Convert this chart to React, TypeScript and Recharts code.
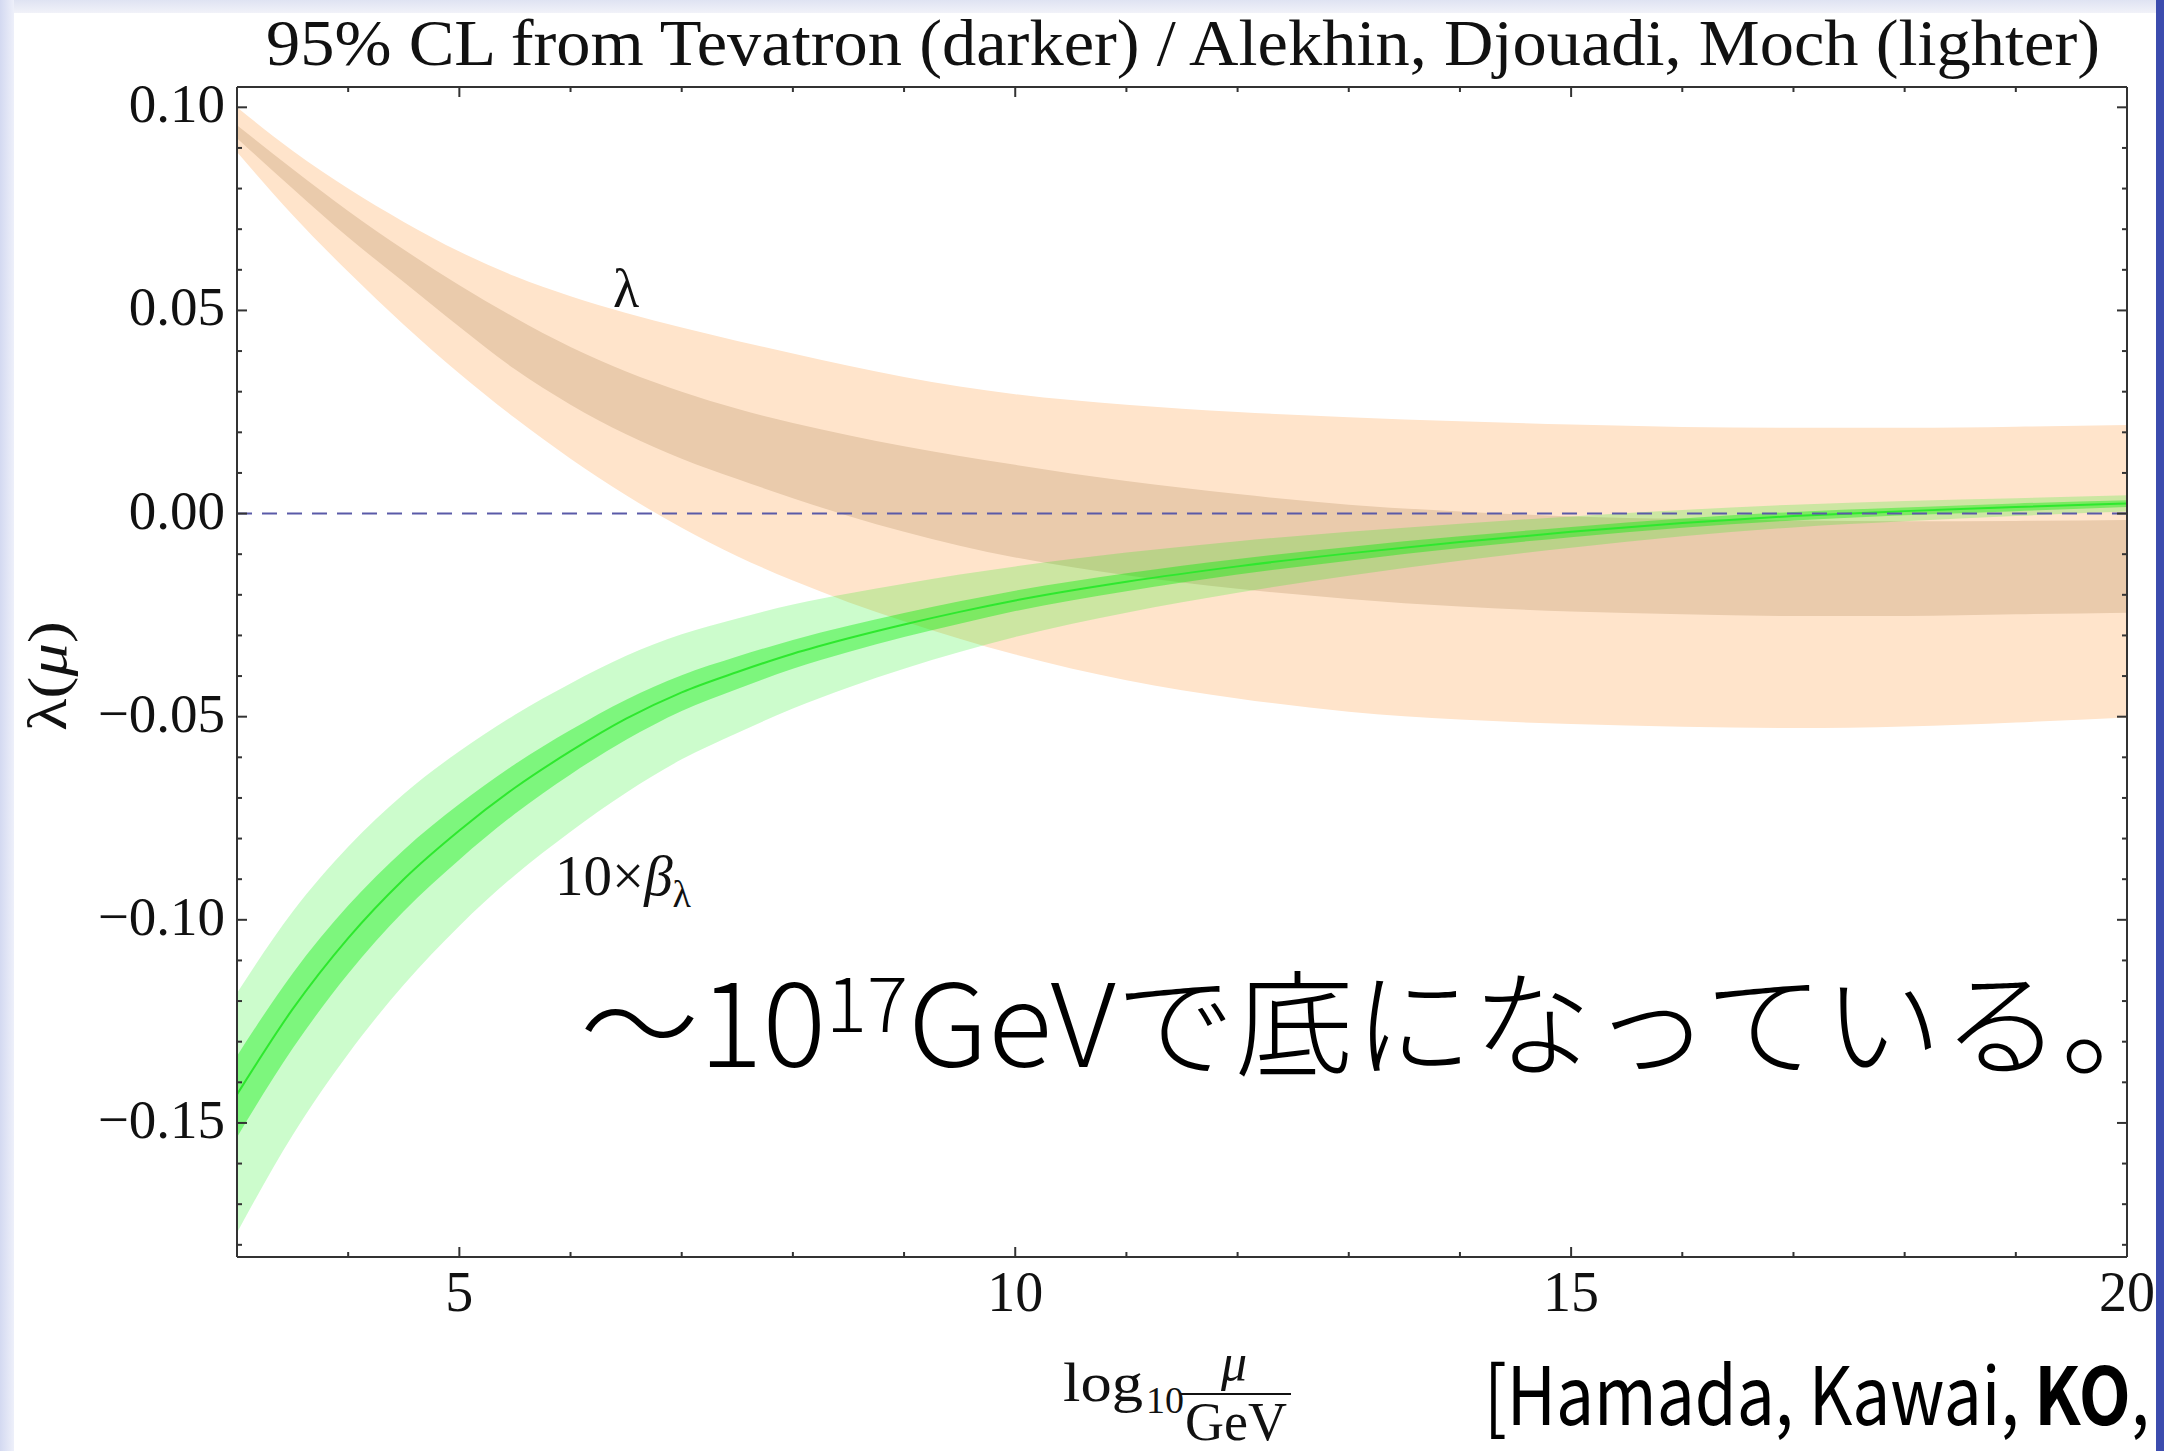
import React from "react";
import { ComposedChart, Area, Line, XAxis, YAxis, ReferenceLine } from "recharts";

// log10(mu / GeV)
const mu = [3, 3.5, 4, 4.5, 5, 5.5, 6, 6.5, 7, 7.5, 8, 8.5, 9, 9.5, 10, 11, 12, 13, 14, 15, 16, 17, 18, 19, 20];

// lambda, Alekhin/Djouadi/Moch band (lighter)
const lamAdmHi = [0.1, 0.0893, 0.08, 0.0718, 0.0645, 0.0584, 0.0535, 0.0494, 0.0458, 0.0425, 0.0394, 0.0364, 0.0336, 0.0313, 0.0294, 0.0268, 0.025, 0.0237, 0.0227, 0.0219, 0.0213, 0.0211, 0.0211, 0.0214, 0.0218];
const lamAdmLo = [0.089, 0.0735, 0.0595, 0.0465, 0.0345, 0.0235, 0.0135, 0.0045, -0.0035, -0.0105, -0.0165, -0.0218, -0.0265, -0.0308, -0.0347, -0.041, -0.0455, -0.0488, -0.0507, -0.0518, -0.0525, -0.0528, -0.0524, -0.0514, -0.0502];

// lambda, Tevatron band (darker)
const lamTevHi = [0.0956, 0.0848, 0.0745, 0.065, 0.0562, 0.0482, 0.041, 0.035, 0.03, 0.0258, 0.0223, 0.0193, 0.0166, 0.0142, 0.012, 0.008, 0.0048, 0.0022, 0.0005, -0.0007, -0.0013, -0.0017, -0.0019, -0.0018, -0.0016];
const lamTevLo = [0.0924, 0.08, 0.068, 0.057, 0.046, 0.0355, 0.0268, 0.0195, 0.0135, 0.0085, 0.0038, -0.0006, -0.0045, -0.0079, -0.0108, -0.0152, -0.0185, -0.021, -0.0229, -0.0241, -0.0248, -0.0252, -0.0252, -0.0248, -0.0244];

// 10 x beta_lambda
const betaMid = [-0.143, -0.122, -0.1045, -0.09, -0.078, -0.0675, -0.0585, -0.0505, -0.044, -0.039, -0.0345, -0.0307, -0.0273, -0.0242, -0.0214, -0.0168, -0.013, -0.0098, -0.007, -0.0045, -0.0023, -0.0006, 0.0006, 0.0016, 0.0025];
const betaAdmHi = [-0.118, -0.098, -0.082, -0.069, -0.0585, -0.0495, -0.0418, -0.035, -0.0297, -0.0258, -0.0224, -0.0197, -0.0173, -0.015, -0.013, -0.0096, -0.0068, -0.0045, -0.0025, -0.0007, 0.0009, 0.0022, 0.0031, 0.0038, 0.0045];
const betaAdmLo = [-0.177, -0.153, -0.133, -0.116, -0.1015, -0.089, -0.0783, -0.0687, -0.0605, -0.054, -0.048, -0.0428, -0.0382, -0.0341, -0.0304, -0.0244, -0.0195, -0.0153, -0.0116, -0.0084, -0.0056, -0.0034, -0.0019, -0.0006, 0.0005];
const betaTevHi = [-0.1335, -0.1132, -0.0965, -0.0828, -0.0715, -0.0617, -0.0533, -0.0458, -0.0398, -0.0352, -0.0311, -0.0276, -0.0245, -0.0216, -0.019, -0.0147, -0.0112, -0.0082, -0.0056, -0.0033, -0.0012, 0.0004, 0.0015, 0.0025, 0.0033];
const betaTevLo = [-0.1535, -0.1317, -0.1133, -0.0979, -0.0852, -0.0739, -0.0642, -0.0557, -0.0486, -0.0432, -0.0382, -0.0341, -0.0304, -0.0271, -0.024, -0.0191, -0.015, -0.0116, -0.0085, -0.0058, -0.0035, -0.0017, -0.0004, 0.0006, 0.0016];

const xTicks = [4, 5, 6, 7, 8, 9, 10, 11, 12, 13, 14, 15, 16, 17, 18, 19, 20];
const yTicks = [-0.18, -0.17, -0.16, -0.15, -0.14, -0.13, -0.12, -0.11, -0.1, -0.09, -0.08, -0.07, -0.06, -0.05, -0.04, -0.03, -0.02, -0.01, 0, 0.01, 0.02, 0.03, 0.04, 0.05, 0.06, 0.07, 0.08, 0.09, 0.1];

const rows = mu.map((m, i) => ({
  mu: m,
  lamAdm: [lamAdmLo[i], lamAdmHi[i]],
  lamTev: [lamTevLo[i], lamTevHi[i]],
  betaAdm: [betaAdmLo[i], betaAdmHi[i]],
  betaTev: [betaTevLo[i], betaTevHi[i]],
  betaMid: betaMid[i],
}));

const SERIF = "'Liberation Serif', 'Times New Roman', serif";
const JP = "'Noto Sans CJK JP', 'Noto Sans', sans-serif";
const FRAME = "#333";

const isMajorX = (v: number) => v % 5 === 0;
const isMajorY = (v: number) => Math.abs(Math.round(v * 20) - v * 20) < 1e-6;
const fmtY = (v: number) => (v < -1e-9 ? "\u2212" : "") + Math.abs(v).toFixed(2);

function BottomTick({ x, y, payload }: any) {
  const major = isMajorX(payload.value);
  return (
    <g>
      <line x1={x} x2={x} y1={y} y2={y - (major ? 10 : 5)} stroke={FRAME} strokeWidth={2} />
      {major && (
        <text x={x} y={y + 54} textAnchor="middle" fontFamily={SERIF} fontSize={56} fill="#111">
          {payload.value}
        </text>
      )}
    </g>
  );
}

function TopTick({ x, y, payload }: any) {
  const major = isMajorX(payload.value);
  return <line x1={x} x2={x} y1={y} y2={y + (major ? 10 : 5)} stroke={FRAME} strokeWidth={2} />;
}

function LeftTick({ x, y, payload }: any) {
  const major = isMajorY(payload.value);
  return (
    <g>
      <line x1={x} x2={x + (major ? 10 : 5)} y1={y} y2={y} stroke={FRAME} strokeWidth={2} />
      {major && (
        <text x={x - 12} y={y + 15} textAnchor="end" fontFamily={SERIF} fontSize={55} fill="#111">
          {fmtY(payload.value)}
        </text>
      )}
    </g>
  );
}

function RightTick({ x, y, payload }: any) {
  const major = isMajorY(payload.value);
  return <line x1={x} x2={x - (major ? 10 : 5)} y1={y} y2={y} stroke={FRAME} strokeWidth={2} />;
}

function Overlay() {
  return (
    <svg width={2164} height={1451} style={{ position: "absolute", left: 0, top: 0, pointerEvents: "none" }}>
      <defs>
        <linearGradient id="topband" x1="0" y1="0" x2="0" y2="1">
          <stop offset="0" stopColor="#dfe3f2" />
          <stop offset="1" stopColor="#f1f2f9" />
        </linearGradient>
        <linearGradient id="leftband" x1="0" y1="0" x2="1" y2="0">
          <stop offset="0" stopColor="#d3d9f1" />
          <stop offset="1" stopColor="#eef0fa" />
        </linearGradient>
      </defs>
      <rect x={0} y={0} width={2164} height={13} fill="url(#topband)" />
      <rect x={0} y={0} width={14} height={1451} fill="url(#leftband)" />

      <text x={1183} y={65} textAnchor="middle" fontFamily={SERIF} fontSize={66} textLength={1834} lengthAdjust="spacingAndGlyphs" fill="#111">
        95% CL from Tevatron (darker) / Alekhin, Djouadi, Moch (lighter)
      </text>

      <text x={626} y={307} textAnchor="middle" fontFamily={SERIF} fontSize={54} fill="#111">
        λ
      </text>
      <text x={555} y={895} fontFamily={SERIF} fontSize={57} fill="#111">
        10×<tspan fontStyle="italic">β</tspan>
        <tspan fontSize={38} dy={12}>λ</tspan>
      </text>

      <text x={48} y={676} transform="rotate(-90 48 676)" textAnchor="middle" dominantBaseline="central" fontFamily={SERIF} fontSize={54} textLength={110} lengthAdjust="spacingAndGlyphs" fill="#111">
        λ(<tspan fontStyle="italic">μ</tspan>)
      </text>

      <text x={1063} y={1401} fontFamily={SERIF} fontSize={54} textLength={80} lengthAdjust="spacingAndGlyphs" fill="#111">
        log
      </text>
      <text x={1146} y={1413} fontFamily={SERIF} fontSize={38} fill="#111">
        10
      </text>
      <text x={1234} y={1380} textAnchor="middle" fontFamily={SERIF} fontStyle="italic" fontSize={52} fill="#111">
        μ
      </text>
      <line x1={1180} x2={1291} y1={1394} y2={1394} stroke="#111" strokeWidth={2} />
      <text x={1236} y={1440} textAnchor="middle" fontFamily={SERIF} fontSize={54} fill="#111">
        GeV
      </text>

      <text x={580} y={1067} fontFamily={JP} fontWeight={300} fontSize={115} textLength={1600} lengthAdjust="spacingAndGlyphs" fill="#000">
        〜10<tspan fontSize={74} dy={-35}>17</tspan>
        <tspan dy={35}>GeVで底になっている。</tspan>
      </text>

      <g transform="translate(1484 1425) scale(0.845 1)">
        <text x={0} y={0} fontFamily={JP} fontSize={80} fill="#000">
          [Hamada, Kawai, <tspan fontWeight="bold">KO</tspan>,
        </text>
      </g>

      <rect x={2156} y={0} width={8} height={1451} fill="#3c4cae" />
    </svg>
  );
}

export default function App() {
  return (
    <div style={{ position: "absolute", left: 0, top: 0, width: 2164, height: 1451, background: "#fff" }}>
      <ComposedChart width={2164} height={1451} data={rows} margin={{ top: 77, right: 27, bottom: 134, left: 177 }}>
        <XAxis xAxisId="b" dataKey="mu" type="number" domain={[3, 20]} allowDataOverflow ticks={xTicks} interval={0}
          height={60} tickSize={0} tickMargin={0} tick={(p: any) => <BottomTick {...p} />} axisLine={{ stroke: FRAME, strokeWidth: 2 }} />
        <XAxis xAxisId="t" orientation="top" dataKey="mu" type="number" domain={[3, 20]} allowDataOverflow ticks={xTicks} interval={0}
          height={10} tickSize={0} tickMargin={0} tick={(p: any) => <TopTick {...p} />} axisLine={{ stroke: FRAME, strokeWidth: 2 }} />
        <YAxis yAxisId="l" type="number" domain={[-0.183, 0.105]} allowDataOverflow ticks={yTicks} interval={0}
          width={60} tickSize={0} tickMargin={0} tick={(p: any) => <LeftTick {...p} />} axisLine={{ stroke: FRAME, strokeWidth: 2 }} />
        <YAxis yAxisId="r" orientation="right" type="number" domain={[-0.183, 0.105]} allowDataOverflow ticks={yTicks} interval={0}
          width={10} tickSize={0} tickMargin={0} tick={(p: any) => <RightTick {...p} />} axisLine={{ stroke: FRAME, strokeWidth: 2 }} />

        <Area xAxisId="b" yAxisId="l" dataKey="lamAdm" type="monotone" fill="#ffe4cb" fillOpacity={1} stroke="none" isAnimationActive={false} />
        <Area xAxisId="b" yAxisId="l" dataKey="lamTev" type="monotone" fill="#eacbac" fillOpacity={1} stroke="none" isAnimationActive={false} />
        <Area xAxisId="b" yAxisId="l" dataKey="betaAdm" type="monotone" fill="#00ee00" fillOpacity={0.2} stroke="none" isAnimationActive={false} />
        <Area xAxisId="b" yAxisId="l" dataKey="betaTev" type="monotone" fill="#00ee00" fillOpacity={0.39} stroke="none" isAnimationActive={false} />
        <Line xAxisId="b" yAxisId="l" dataKey="betaMid" type="monotone" stroke="#2ee82e" strokeWidth={2} dot={false} isAnimationActive={false} />
        <ReferenceLine xAxisId="b" yAxisId="l" y={0} stroke="#5a5aa8" strokeWidth={2} strokeDasharray="15 10" />
      </ComposedChart>
      <Overlay />
    </div>
  );
}
